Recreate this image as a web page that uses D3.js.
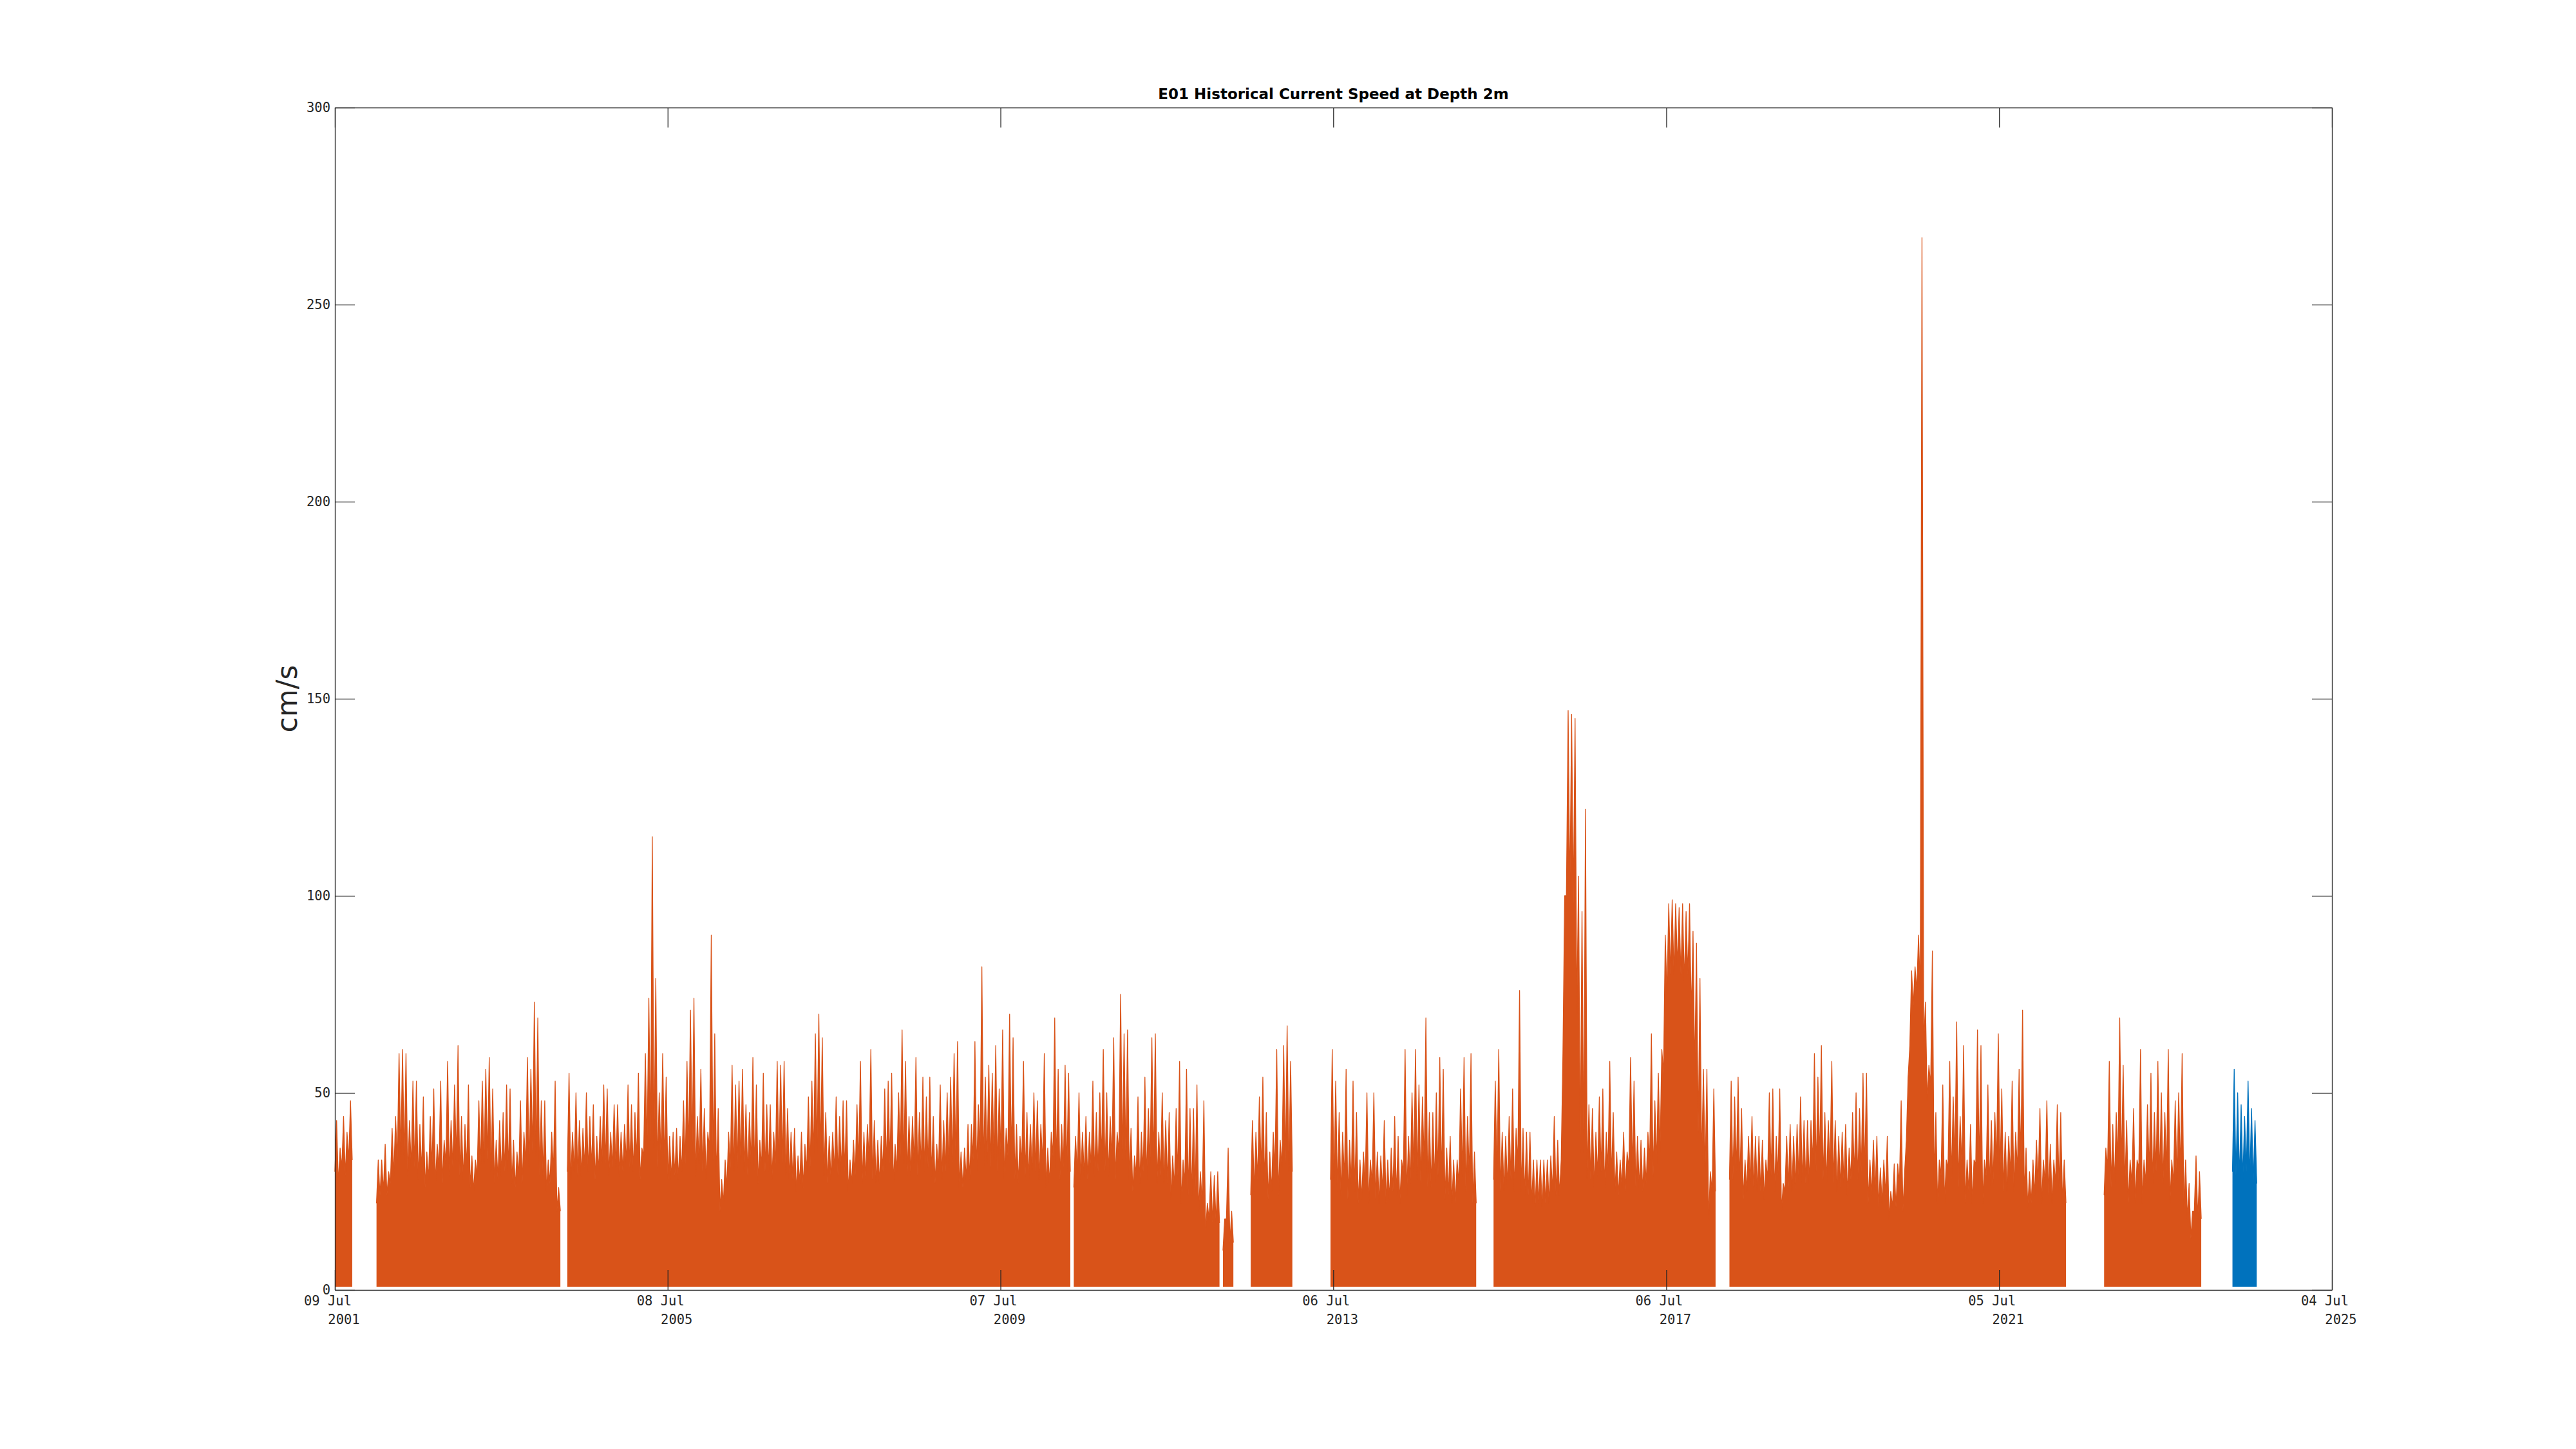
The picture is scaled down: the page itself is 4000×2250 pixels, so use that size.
<!DOCTYPE html>
<html><head><meta charset="utf-8">
<script src="https://cdn.jsdelivr.net/npm/d3@7"></script>
<style>html,body{margin:0;padding:0;background:#fff;} svg{display:block}</style>
</head><body>
<svg id="chart" width="4000" height="2250"></svg>
<script>
// ---------------- data ----------------
const chartTitle = "E01 Historical Current Speed at Depth 2m";
const yLabel = "cm/s";
const xDomain = ["2001-07-09", "2025-07-04"];
const xTickDates = ["2001-07-09", "2005-07-08", "2009-07-07", "2013-07-06", "2017-07-06", "2021-07-05", "2025-07-04"];
const yTicks = [0, 50, 100, 150, 200, 250, 300];
// half-month bins starting at binStart (speed in cm/s)
const binStart = "2001-07-09";
const binDays = 15.21875;
// highest spike in each half-month bin (null = no data)
const peakSpeed = [
 43,36,44,40,48,null,null,null,null,null,null,null,33,33,37,30,41,44,60,61,60,43,53,53,
 42,49,35,44,51,37,53,38,58,43,52,62,44,42,52,34,33,48,53,56,59,51,38,43,
 45,52,51,38,35,48,40,59,56,73,69,48,48,33,40,53,26,null,null,55,40,50,43,41,
 50,44,47,39,44,52,51,40,47,47,40,42,52,47,45,55,36,60,74,115,79,50,60,54,
 39,40,41,39,48,58,71,74,44,56,46,40,90,65,46,28,33,40,57,52,53,56,47,45,
 59,52,38,55,47,47,40,58,57,58,46,40,41,34,40,37,49,53,65,70,64,45,39,40,
 49,44,48,48,33,38,47,58,40,42,61,43,38,39,51,53,55,37,50,66,58,44,44,59,
 45,54,49,54,44,37,52,43,50,54,60,63,35,36,42,42,63,47,82,54,57,55,62,51,
 66,41,70,64,42,39,58,45,42,50,48,42,60,36,40,69,56,42,57,55,null,39,50,40,
 44,40,53,45,50,61,50,44,64,40,75,65,66,41,34,49,40,54,46,64,65,40,50,43,
 45,34,46,58,33,56,46,46,52,30,48,22,30,29,30,null,18,36,20,null,null,null,null,null,
 43,40,49,54,45,35,40,61,38,62,67,58,null,null,null,null,null,null,null,null,null,null,null,61,
 53,45,40,56,38,53,45,33,35,50,33,50,35,34,43,33,36,44,39,33,61,39,50,61,
 52,49,69,45,45,50,59,56,36,39,33,33,51,59,44,60,35,null,null,null,null,null,53,61,
 40,39,44,51,41,76,41,40,40,33,33,33,33,33,34,44,38,33,100,147,146,145,105,96,
 122,47,46,40,49,51,40,58,45,35,33,40,35,59,53,39,38,36,40,65,48,55,61,90,
 98,99,98,97,98,96,98,91,88,79,56,56,30,51,null,null,null,null,53,49,54,46,33,39,
 44,39,39,38,33,50,51,39,51,27,39,42,39,42,49,43,43,43,60,54,62,45,43,58,
 43,39,40,42,36,45,50,46,55,55,33,38,39,31,33,39,25,32,32,48,30,54,81,82,
 90,267,73,57,86,45,33,52,33,58,49,68,44,62,33,42,33,66,62,33,52,43,45,65,
 51,40,39,53,40,56,71,36,30,33,38,46,33,48,37,33,47,45,33,null,null,null,null,null,
 null,null,null,null,null,null,36,58,42,45,69,57,43,33,46,33,61,33,47,55,45,58,50,45,
 61,33,48,50,60,33,27,20,34,30
];
// top of the dense band in each half-month bin
const coreSpeed = [
 30,27,31,29,33,null,null,null,null,null,null,null,22,24,25,24,27,29,33,34,33,29,31,31,
 28,30,26,28,31,27,31,27,32,29,31,33,29,28,31,26,25,29,31,32,33,30,27,28,
 29,30,30,27,26,29,27,32,31,35,34,29,29,25,27,30,20,null,null,30,28,30,29,29,
 31,30,31,28,30,32,32,29,31,31,29,30,32,31,30,33,28,34,36,38,36,31,33,32,
 28,28,29,28,30,32,35,35,29,32,30,28,36,33,28,20,22,26,31,30,31,32,30,29,
 32,30,27,31,30,30,28,32,32,32,29,28,28,25,27,26,30,31,34,35,34,29,27,28,
 30,29,30,30,25,27,29,32,27,28,33,28,27,27,30,31,32,27,30,34,32,29,29,32,
 29,31,30,31,29,27,30,28,30,31,32,33,26,26,28,28,33,30,36,31,32,31,33,30,
 34,28,34,33,28,27,32,29,28,30,30,28,32,26,27,34,31,28,31,30,null,26,30,28,
 29,28,31,29,30,33,30,29,33,28,35,33,33,28,25,29,27,30,28,32,32,27,29,27,
 27,23,26,29,22,27,24,24,25,20,22,15,18,17,17,null,10,18,12,null,null,null,null,null,
 24,25,28,30,27,23,25,31,24,31,32,30,null,null,null,null,null,null,null,null,null,null,null,28,
 27,25,24,28,23,27,25,22,23,27,22,27,23,22,25,22,23,25,24,22,30,24,27,30,
 28,27,32,26,26,27,29,28,23,24,22,22,27,29,25,29,22,null,null,null,null,null,28,30,
 25,25,26,28,25,32,25,24,24,22,21,22,21,22,22,25,24,24,60,100,100,98,70,35,
 35,28,28,26,29,30,26,31,28,25,24,26,25,31,30,26,26,25,27,33,29,32,35,55,
 75,80,80,82,80,78,80,70,55,40,32,30,18,25,null,null,null,null,28,28,30,27,23,25,
 27,25,25,25,23,28,29,25,29,20,25,26,25,26,28,27,27,27,32,30,33,28,27,31,
 27,25,26,27,24,28,29,28,30,30,22,24,25,21,22,24,18,21,21,27,20,38,62,72,
 76,76,62,48,52,28,22,29,22,31,28,33,26,31,22,25,22,32,31,22,29,26,27,32,
 29,25,25,29,25,30,33,24,21,22,24,27,22,27,24,22,27,26,22,null,null,null,null,null,
 null,null,null,null,null,null,24,31,26,27,33,31,26,22,27,22,31,22,27,30,27,30,28,27,
 30,22,27,28,30,21,18,13,20,18
];
// latest deployment (blue), starting at bin index latestFirstBin
const latestFirstBin = 547;
const latestPeak = [56,50,47,44,53,46,43];
const latestCore = [30,29,28,28,30,28,27];

// ---------------- drawing ----------------
const seriesColors = ["#D95319", "#0072BD"];
const axisColor = "#262626";
const m = {l: 520, r: 3621, t: 167, b: 2003};
const svg = d3.select("#chart");
const parse = d3.utcParse("%Y-%m-%d");
const x = d3.scaleUtc().domain(xDomain.map(parse)).range([m.l, m.r]);
const y = d3.scaleLinear().domain([0, 300]).range([m.b, m.t]);
const t0 = parse(binStart).getTime();
const binDate = (k, f) => new Date(t0 + (k + f) * binDays * 864e5);

function runs(peaks, cores, offset) {
  const out = []; let cur = null;
  peaks.forEach((p, i) => {
    if (p == null) { cur = null; return; }
    if (!cur) { cur = []; out.push(cur); }
    cur.push({k: i + offset, p: p, c: cores[i]});
  });
  return out;
}

const area = d3.area().x(d => x(d.t)).y0(y(0.8)).y1(d => y(d.v));
const line = d3.line().x(d => x(d.t)).y(d => y(d.v));

function drawSeries(peaks, cores, offset, color) {
  const g = svg.append("g");
  runs(peaks, cores, offset).forEach(run => {
    const last = run[run.length - 1];
    const pts = [];
    run.forEach(d => { pts.push({t: binDate(d.k, 0), v: d.c}); pts.push({t: binDate(d.k, 0.5), v: d.p}); });
    pts.push({t: binDate(last.k, 1), v: last.c});
    g.append("path").attr("d", area(pts)).attr("fill", color);
    g.append("path").attr("d", line(pts)).attr("fill", "none").attr("stroke", color)
      .attr("stroke-width", 1.3).attr("stroke-linejoin", "round");
  });
}
drawSeries(peakSpeed, coreSpeed, 0, seriesColors[0]);
drawSeries(latestPeak, latestCore, latestFirstBin, seriesColors[1]);

// axes
const tickDates = xTickDates.map(parse);
function styleAxis(g) {
  g.selectAll("path,line").attr("stroke", axisColor).attr("stroke-width", 1.3);
  g.selectAll("text").attr("fill", axisColor).attr("font-family", "'DejaVu Sans Mono', monospace").attr("font-size", 20.5);
}
svg.append("g").attr("transform", `translate(0,${m.b})`)
  .call(d3.axisBottom(x).tickValues(tickDates).tickSize(-31).tickSizeOuter(0).tickFormat(""))
  .call(styleAxis);
svg.append("g").attr("transform", `translate(0,${m.t})`)
  .call(d3.axisTop(x).tickValues(tickDates).tickSize(-31).tickSizeOuter(0).tickFormat(""))
  .call(styleAxis);
svg.append("g").attr("transform", `translate(${m.l},0)`)
  .call(d3.axisLeft(y).tickValues(yTicks).tickSize(-31).tickSizeOuter(0).tickPadding(7))
  .call(styleAxis);
svg.append("g").attr("transform", `translate(${m.r},0)`)
  .call(d3.axisRight(y).tickValues(yTicks).tickSize(-31).tickSizeOuter(0).tickFormat(""))
  .call(styleAxis);

// two-line date labels
const fmtDay = d3.utcFormat("%d %b"), fmtYear = d3.utcFormat("%Y");
const xl = svg.append("g").attr("font-family", "'DejaVu Sans Mono', monospace").attr("font-size", 20.5).attr("fill", axisColor).attr("text-anchor", "middle");
tickDates.forEach(d => {
  xl.append("text").attr("x", x(d) - 11).attr("y", 2027).text(fmtDay(d));
  xl.append("text").attr("x", x(d) + 14).attr("y", 2056).text(fmtYear(d));
});

// title and y label
svg.append("text").attr("x", (m.l + m.r) / 2).attr("y", 154).attr("text-anchor", "middle")
  .attr("font-family", "'DejaVu Sans', sans-serif").attr("font-weight", "bold").attr("font-size", 23)
  .attr("fill", "#000").text(chartTitle);
svg.append("text").attr("transform", `translate(461,${(m.t + m.b) / 2}) rotate(-90)`).attr("text-anchor", "middle")
  .attr("font-family", "'DejaVu Sans', sans-serif").attr("font-size", 44).attr("fill", axisColor).text(yLabel);
</script>
</body></html>
